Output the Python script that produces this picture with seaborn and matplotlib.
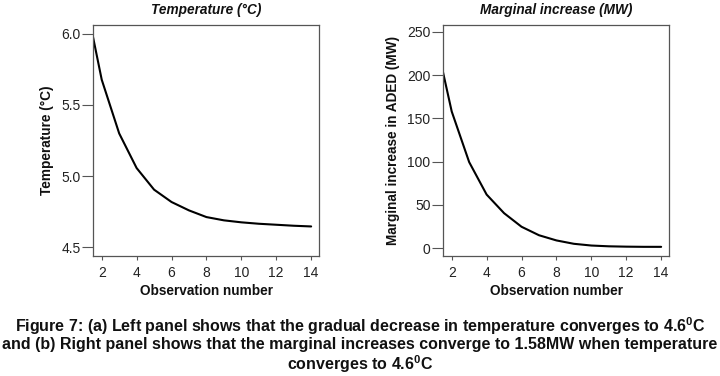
import matplotlib
matplotlib.use("Agg")
import matplotlib.pyplot as plt
import seaborn as sns
import pandas as pd

obs = [1, 2, 3, 4, 5, 6, 7, 8, 9, 10, 11, 12, 13, 14]
temperature = [6.28, 5.678, 5.30, 5.056, 4.904, 4.817, 4.758, 4.711, 4.688, 4.674, 4.664, 4.657, 4.650, 4.645]
marginal = [249, 158, 99.5, 62, 40.5, 24.8, 15, 9, 5.1, 3.1, 2.2, 1.8, 1.6, 1.58]

x_ticks = [2, 4, 6, 8, 10, 12, 14]
temp_ticks = [4.5, 5.0, 5.5, 6.0]
marg_ticks = [0, 50, 100, 150, 200, 250]

caption_lines = [
    "Figure 7: (a) Left panel shows that the gradual decrease in temperature converges to 4.6$^{\\mathbf{0}}$C",
    "and (b) Right panel shows that the marginal increases converge to 1.58MW when temperature",
    "converges to 4.6$^{\\mathbf{0}}$C",
]

sns.set_theme(style="ticks")
plt.rcParams['font.family'] = ['Liberation Sans', 'DejaVu Sans']
plt.rcParams['mathtext.fontset'] = 'custom'
plt.rcParams['mathtext.bf'] = 'Liberation Sans:bold'

df = pd.DataFrame({"obs": obs, "temp": temperature, "marg": marginal})

fig = plt.figure(figsize=(7.2, 3.76), dpi=100)
ax1 = fig.add_axes([93/720, 120/376, 226/720, 231/376])
ax2 = fig.add_axes([443/720, 120/376, 226/720, 231/376])

sns.lineplot(data=df, x="obs", y="temp", ax=ax1, color="black", linewidth=1.5)
sns.lineplot(data=df, x="obs", y="marg", ax=ax2, color="black", linewidth=1.5)

specs = [
    (ax1, "Temperature (°C)", "Temperature (°C)", temp_ticks, (4.437, 6.063), ["4.5", "5.0", "5.5", "6.0"]),
    (ax2, "Marginal increase (MW)", "Marginal increase in ADED (MW)", marg_ticks, (-9, 258), [str(t) for t in marg_ticks]),
]
for ax, title, ylabel, yt, ylim, ylabels in specs:
    ax.set_xlim(1.5, 14.45)
    ax.set_ylim(*ylim)
    ax.set_xticks(x_ticks)
    ax.set_xticklabels([str(t) for t in x_ticks])
    ax.set_yticks(yt)
    ax.set_yticklabels(ylabels)
    ax.tick_params(axis="y", length=8, width=0.8, color="#555555", labelsize=10, pad=1, labelcolor="#222222")
    ax.tick_params(axis="x", length=3, width=0.8, color="#555555", labelsize=10, pad=4, labelcolor="#222222")
    for s in ax.spines.values():
        s.set_visible(True)
        s.set_color("#555555")
        s.set_linewidth(0.9)
    ax.set_title(title, fontsize=9.8, fontweight="bold", fontstyle="italic", pad=8, color="#111111")
    ax.set_xlabel("Observation number", fontsize=9.8, fontweight="bold", labelpad=3, color="#111111")
    ax.set_ylabel(ylabel, fontsize=9.8, fontweight="bold", labelpad=5, color="#111111")

# caption: fit line 2 to ~713 px width
renderer = fig.canvas.get_renderer()
texts = []
ys = [326, 345, 364]
for line, y in zip(caption_lines, ys):
    t = fig.text(0.5, 1 - y/376, line, ha="center", va="center", fontsize=12, fontweight="bold", color="#111111")
    texts.append(t)
w = texts[1].get_window_extent(renderer).width
size = 12 * 712 / w
for t in texts:
    t.set_fontsize(size)

fig.savefig("out.png", dpi=100)
